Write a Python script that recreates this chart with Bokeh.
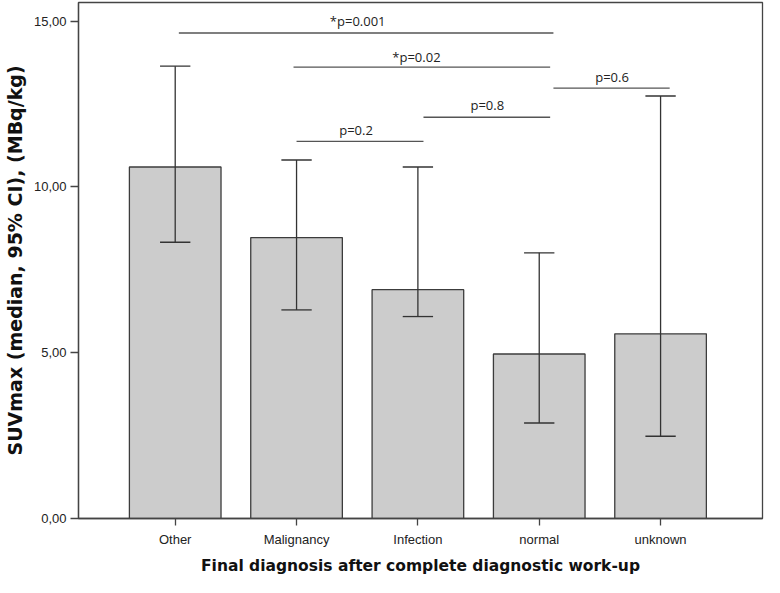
from bokeh.plotting import figure
from bokeh.models import Range1d, FixedTicker, ColumnDataSource
from bokeh.embed import file_html
from bokeh.resources import INLINE
from bokeh.core.properties import value

categories = ["Other", "Malignancy", "Infection", "normal", "unknown"]
medians = [10.60, 8.47, 6.90, 4.96, 5.57]
ci_lower = [8.33, 6.29, 6.09, 2.88, 2.48]
ci_upper = [13.64, 10.81, 10.60, 8.01, 12.74]

y_ticks = [0, 5, 10, 15]
y_tick_labels = ["0,00", "5,00", "10,00", "15,00"]

# significance brackets (x in category positions 1..5)
sig_labels = ["*p=0.001", "*p=0.02", "p=0.6", "p=0.8", "p=0.2"]
sig_x_start = [1.03, 1.975, 4.117, 3.046, 2.0]
sig_x_end = [4.117, 4.09, 5.075, 4.09, 3.046]
sig_y = [14.64, 13.61, 12.98, 12.10, 11.37]
sig_label_x = [2.504, 2.988, 4.60, 3.572, 2.49]
sig_label_y = [15.0, 13.91, 13.32, 12.47, 11.71]

xs = list(range(1, len(categories) + 1))
bar_width = 0.755
cap_half = 0.125

src = ColumnDataSource(dict(
    x=xs, top=medians, lo=ci_lower, hi=ci_upper,
    cap_l=[x - cap_half for x in xs], cap_r=[x + cap_half for x in xs],
))

p = figure(width=764, height=577, output_backend="svg", toolbar_location=None,
           x_range=Range1d(0.203, 5.84), y_range=Range1d(0, 15.56),
           min_border_left=40, min_border_right=2, min_border_top=2, min_border_bottom=40)

p.background_fill_color = "white"
p.border_fill_color = "white"
p.outline_line_color = "#444444"
p.outline_line_width = 1.3
p.xgrid.visible = False
p.ygrid.visible = False

p.vbar(x="x", top="top", bottom=0, width=bar_width, source=src,
       fill_color="#cccccc", line_color="#3c3c3c", line_width=1.3)
p.segment(x0="x", y0="lo", x1="x", y1="hi", source=src, line_color="#333333", line_width=1.3)
p.segment(x0="cap_l", y0="lo", x1="cap_r", y1="lo", source=src, line_color="#333333", line_width=1.3)
p.segment(x0="cap_l", y0="hi", x1="cap_r", y1="hi", source=src, line_color="#333333", line_width=1.3)

sig_src = ColumnDataSource(dict(x0=sig_x_start, x1=sig_x_end, y=sig_y,
                                lx=sig_label_x, ly=sig_label_y, t=sig_labels))
p.segment(x0="x0", y0="y", x1="x1", y1="y", source=sig_src, line_color="#555555", line_width=1.3)
p.text(x="lx", y="ly", text="t", source=sig_src, text_align="center", text_baseline="middle",
       text_font=value("Open Sans"), text_font_size="13px", text_color="#222222")

# axes
p.xaxis.ticker = FixedTicker(ticks=xs)
p.xaxis.major_label_overrides = {x: c for x, c in zip(xs, categories)}
p.yaxis.ticker = FixedTicker(ticks=y_ticks)
p.yaxis.major_label_overrides = {t: l for t, l in zip(y_ticks, y_tick_labels)}
for ax in (p.xaxis[0], p.yaxis[0]):
    ax.axis_line_color = "#444444"
    ax.axis_line_width = 1.3
    ax.major_tick_line_color = "#444444"
    ax.major_tick_line_width = 1.3
    ax.major_tick_in = 0
    ax.minor_tick_line_color = None
    ax.major_label_text_font = "Liberation Sans"
    ax.major_label_text_font_size = "13px"
    ax.major_label_text_color = "#222222"
    ax.axis_label_text_color = "#111111"
    ax.axis_label_text_font_style = "bold"
    ax.axis_label_text_font = "DejaVu Sans"
p.yaxis.major_tick_out = 8
p.xaxis.major_tick_out = 7
p.yaxis.major_label_standoff = 4
p.xaxis.major_label_standoff = 6

p.yaxis.axis_label = "SUVmax (median, 95% CI), (MBq/kg)"
p.yaxis.axis_label_text_font_size = "19px"
p.yaxis.axis_label_standoff = 5

p.xaxis.axis_label = "Final diagnosis after complete diagnostic work-up"
p.xaxis.axis_label_text_font_size = "15.5px"
p.xaxis.axis_label_standoff = 7

open("out.html", "w").write(file_html(p, INLINE))
